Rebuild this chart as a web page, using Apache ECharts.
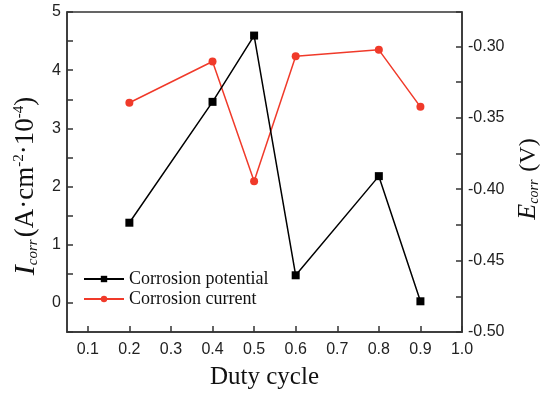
<!DOCTYPE html>
<html>
<head>
<meta charset="utf-8">
<script src="https://cdn.jsdelivr.net/npm/echarts@6/dist/echarts.min.js"></script>
<style>
  html, body { margin: 0; padding: 0; background: #fff; }
  #main { width: 544px; height: 394px; }
</style>
</head>
<body>
<div id="main"></div>
<script>
// duty cycle values of the measured samples
const dutyCycle = [0.2, 0.4, 0.5, 0.6, 0.8, 0.9]
// corrosion potential, V (right axis)
const potential = [-0.4235, -0.3389, -0.2925, -0.4603, -0.3909, -0.4785]
// corrosion current, 10^-4 A/cm2 (left axis)
const current = [3.44, 4.15, 2.09, 4.24, 4.35, 3.37]
// x axis ticks
const xTicks = [0.1, 0.2, 0.3, 0.4, 0.5, 0.6, 0.7, 0.8, 0.9, 1.0]

const axisCol = '#333'
const labelFont = { fontFamily: 'Liberation Sans', fontSize: 16, color: '#222' }
const serif = 'Liberation Serif'

let chart = echarts.init(document.getElementById('main'))
chart.setOption({
  backgroundColor: '#fff',
  animation: false,
  grid: {
    left: 67, right: 82, top: 12, bottom: 62,
    outerBoundsMode: 'none',
    show: true, borderColor: axisCol, borderWidth: 1.5
  },
  legend: {
    orient: 'vertical',
    left: 78, top: 265,
    itemWidth: 40, itemHeight: 8, itemGap: 2,
    textStyle: { fontFamily: serif, fontSize: 18, color: '#111' },
    data: ['Corrosion potential', 'Corrosion current']
  },
  xAxis: {
    type: 'value',
    min: 0.05, max: 1.0,
    name: 'Duty cycle',
    nameLocation: 'middle',
    nameGap: 33,
    nameTextStyle: { fontFamily: serif, fontSize: 25, color: '#111' },
    axisLine: { onZero: false, lineStyle: { color: axisCol, width: 1.5 } },
    axisTick: { inside: true, length: 6, customValues: xTicks, lineStyle: { color: axisCol, width: 1.5 } },
    axisLabel: { ...labelFont, margin: 10, customValues: xTicks, formatter: v => v.toFixed(1) },
    splitLine: { show: false }
  },
  yAxis: [
    {
      type: 'value',
      position: 'left',
      min: -0.5, max: 5, interval: 0.5,
      name: '{i|I}{sub|corr}{n|(A·cm}{sup|-2}{n|·10}{sup|-4}{n|)}',
      nameLocation: 'middle',
      nameRotate: 90,
      nameGap: 24,
      nameTextStyle: {
        padding: [0, 28, 0, 0],
        rich: {
          i: { fontFamily: serif, fontStyle: 'italic', fontSize: 30, color: '#111' },
          sub: { fontFamily: serif, fontStyle: 'italic', fontSize: 15, color: '#111', padding: [14, 2, 0, 0] },
          n: { fontFamily: serif, fontSize: 27, color: '#111' },
          sup: { fontFamily: serif, fontSize: 15, color: '#111', padding: [0, 0, 14, 0] }
        }
      },
      axisLine: { show: true, lineStyle: { color: axisCol, width: 1.5 } },
      axisTick: { show: true, inside: true, length: 6, lineStyle: { color: axisCol, width: 1.5 } },
      axisLabel: {
        ...labelFont, margin: 6,
        formatter: v => (Math.abs(v - Math.round(v)) < 1e-6 ? String(Math.round(v)) : '')
      },
      splitLine: { show: false }
    },
    {
      type: 'value',
      position: 'right',
      min: -0.5, max: -0.276, interval: 0.025,
      name: '{i|E}{sub|corr}{n| (V)}',
      nameLocation: 'middle',
      nameRotate: 90,
      nameGap: 48,
      nameTextStyle: {
        padding: [0, 14, 0, 0],
        rich: {
          i: { fontFamily: serif, fontStyle: 'italic', fontSize: 26, color: '#111' },
          sub: { fontFamily: serif, fontStyle: 'italic', fontSize: 14, color: '#111', padding: [12, 2, 0, 0] },
          n: { fontFamily: serif, fontSize: 24, color: '#111' }
        }
      },
      axisLine: { show: true, lineStyle: { color: axisCol, width: 1.5 } },
      axisTick: { show: true, inside: true, length: 6, lineStyle: { color: axisCol, width: 1.5 } },
      axisLabel: {
        ...labelFont, margin: 6,
        formatter: v => (Math.round(v * 1000) % 50 === 0 ? v.toFixed(2) : '')
      },
      splitLine: { show: false }
    }
  ],
  series: [
    {
      name: 'Corrosion current',
      type: 'line',
      yAxisIndex: 0,
      data: dutyCycle.map((x, i) => [x, current[i]]),
      symbol: 'circle',
      symbolSize: 8,
      color: '#f03a2a',
      lineStyle: { width: 1.5 }
    },
    {
      name: 'Corrosion potential',
      type: 'line',
      yAxisIndex: 1,
      data: dutyCycle.map((x, i) => [x, potential[i]]),
      symbol: 'rect',
      symbolSize: 8,
      color: '#000',
      lineStyle: { width: 1.5 }
    }
  ]
})
</script>
</body>
</html>
